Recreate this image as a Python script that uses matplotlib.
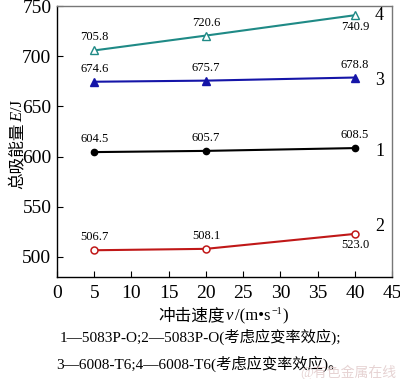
import matplotlib
matplotlib.use("Agg")
import matplotlib.pyplot as plt

plt.rcParams['font.family'] = ['Liberation Serif', 'Noto Sans CJK SC', 'DejaVu Sans']

speeds = [5, 20, 40]
s1 = [604.5, 605.7, 608.5]
s2 = [506.7, 508.1, 523.0]
s3 = [674.6, 675.7, 678.8]
s4 = [705.8, 720.6, 740.9]
series_names = ["1", "2", "3", "4"]

fig = plt.figure(figsize=(4.0, 3.79), dpi=100)
ax = fig.add_axes([0.1425, 0.269, 0.838, 0.715])

c1, c2, c3, c4 = 'black', '#c01818', '#1515a8', '#1f8a86'
ax.plot(speeds, s1, color=c1, lw=1.5, marker='o', ms=4.5, mfc=c1, mec=c1)
ax.plot(speeds, s2, color=c2, lw=1.5, marker='o', ms=5, mfc='white', mec=c2, mew=1.1)
ax.plot(speeds, s3, color=c3, lw=1.5, marker='^', ms=5.5, mfc=c3, mec=c3)
ax.plot(speeds, s4, color=c4, lw=1.5, marker='^', ms=5.5, mfc='white', mec=c4, mew=1.0)

fs = 9
def lab(x, y, dy, va):
    ax.annotate(f"{y:.1f}", (x, y), xytext=(0, dy), textcoords='offset points',
                ha='center', va=va, fontsize=fs)

for x, y in zip(speeds, s1):
    lab(x, y, 5, 'bottom')
for x, y in zip(speeds, s3):
    lab(x, y, 5, 'bottom')
lab(speeds[0], s4[0], 5, 'bottom')
lab(speeds[1], s4[1], 5, 'bottom')
lab(speeds[2], s4[2], -4, 'top')
lab(speeds[0], s2[0], 5, 'bottom')
lab(speeds[1], s2[1], 5, 'bottom')
lab(speeds[2], s2[2], -4, 'top')

for name, yv in zip(series_names, [s1[-1], s2[-1], s3[-1], s4[-1]]):
    off = {'1': -3, '2': 7, '3': -3, '4': 0}[name]
    ax.text(43.3, yv + off, name, fontsize=13, ha='center', va='center')

ax.set_xlim(0, 45)
ax.set_ylim(480, 750)
ax.set_xticks(range(0, 46, 5))
ax.set_yticks(range(500, 751, 50))
ax.tick_params(direction='in', labelsize=14, length=4, width=0.8, pad=4)
ax.tick_params(axis='x', pad=6)
for sp in ax.spines.values():
    sp.set_linewidth(1.0)
ax.spines['right'].set_color('#777777')
ax.spines['top'].set_color('#777777')

fig.canvas.draw()
renderer = fig.canvas.get_renderer()

def chain(pieces, x0, y0, vertical=False, size=12, gap=1.0):
    texts = []
    total = 0
    for t, style, dy, sc in pieces:
        tt = fig.text(0, 0, t, fontsize=size * sc, fontstyle=style,
                      rotation=90 if vertical else 0,
                      ha='left', va='baseline' if not vertical else 'bottom',
                      transform=None)
        bb = tt.get_window_extent(renderer)
        ln = (bb.height if vertical else bb.width) + gap
        texts.append((tt, ln, dy))
        total += ln
    W, H = fig.bbox.width, fig.bbox.height
    pos = -total / 2
    for tt, ln, dy in texts:
        if vertical:
            tt.set_position((x0 * W - dy, y0 * H + pos))
            tt.set_va('bottom'); tt.set_ha('center')
        else:
            tt.set_position((x0 * W + pos, y0 * H + dy))
        pos += ln

chain([('总吸能量', 'normal', 0, 1), ('E', 'italic', 0, 1), ('/J', 'normal', 0, 1)],
      0.045, 0.62, vertical=True, size=12)
chain([('冲击速度', 'normal', 0, 1), ('v', 'italic', 0, 1), ('/(m•s', 'normal', 0, 1),
       ('−1', 'normal', 6, 0.6), (')', 'normal', 0, 1)],
      0.56, 0.155, vertical=False, size=12)

fig.text(0.5, 0.112, '1—5083P-O;2—5083P-O(考虑应变率效应);', ha='center', va='center', fontsize=11)
fig.text(0.5, 0.04, '3—6008-T6;4—6008-T6(考虑应变率效应)。', ha='center', va='center', fontsize=11)
fig.text(0.99, 0.018, '@有色金属在线', ha='right', va='center', fontsize=10, color='#e0c8c8', alpha=0.8)

fig.savefig('out.png', dpi=100)
